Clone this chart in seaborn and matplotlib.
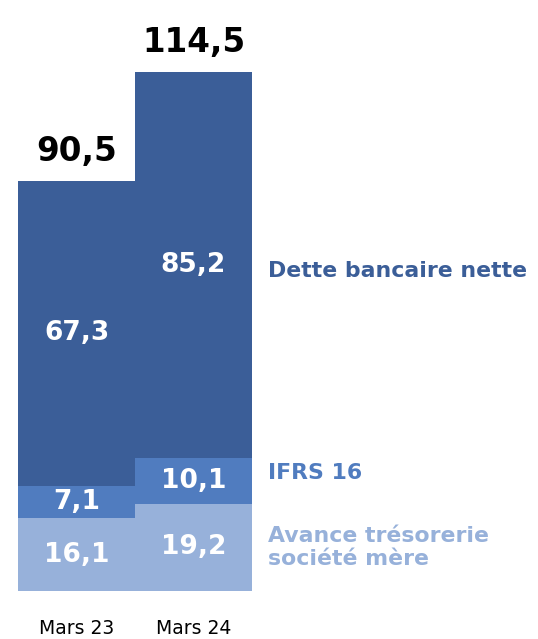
import pandas as pd
import matplotlib
matplotlib.use("Agg")
import matplotlib.pyplot as plt
import seaborn as sns

# --- données ---
periods = ["Mars 23", "Mars 24"]
avance = [16.1, 19.2]
ifrs = [7.1, 10.1]
dette = [67.3, 85.2]
totals = [90.5, 114.5]

series_names = ["Dette bancaire nette", "IFRS 16", "Avance trésorerie\nsociété mère"]
colors = ["#3B5E98", "#507CBF", "#97B1DA"]

sns.set_theme(style="white")
plt.rcParams["font.family"] = ["DejaVu Sans"]

df = pd.DataFrame({"period": periods, "avance": avance, "ifrs": ifrs, "dette": dette})
df["c1"] = df["avance"]
df["c2"] = df["avance"] + df["ifrs"]
df["c3"] = df["c2"] + df["dette"]

fig = plt.figure(figsize=(5.38, 6.39), dpi=100)
ax = fig.add_axes([18 / 538, 48 / 639, 234 / 538, 519 / 639])

# barres empilées : on superpose les cumuls
for col, color in zip(["c3", "c2", "c1"], colors):
    sns.barplot(data=df, x="period", y=col, color=color, width=1.0,
                linewidth=0, saturation=1, ax=ax)

ax.set_xlim(-0.5, 1.5)
ax.set_ylim(0, totals[1])
ax.set_xlabel("")
ax.set_ylabel("")
ax.set_yticks([])
ax.set_xticks([])
sns.despine(ax=ax, left=True, bottom=True)

# étiquettes des segments
for i in range(len(periods)):
    segs = [(0, avance[i]), (avance[i], ifrs[i]), (avance[i] + ifrs[i], dette[i])]
    for bottom, val in segs:
        ax.text(i, bottom + val / 2, f"{val:.1f}".replace(".", ","),
                ha="center", va="center", color="white",
                fontsize=19, fontweight="bold")
    # total au-dessus
    ax.text(i, totals[i] + 6.5, f"{totals[i]:.1f}".replace(".", ","),
            ha="center", va="center", color="black",
            fontsize=23.5, fontweight="bold", clip_on=False)
    # catégories
    ax.text(i, -8.2, periods[i], ha="center", va="center", color="black",
            fontsize=13.5, clip_on=False)

# légende à droite
legend_y = [70.7, 26.0, 9.6]
for name, color, y in zip(series_names, colors, legend_y):
    ax.text(1.64, y, name, ha="left", va="center", color=color,
            fontsize=15.8, fontweight="bold", linespacing=1.2, clip_on=False)

fig.savefig("out.png", dpi=100)
